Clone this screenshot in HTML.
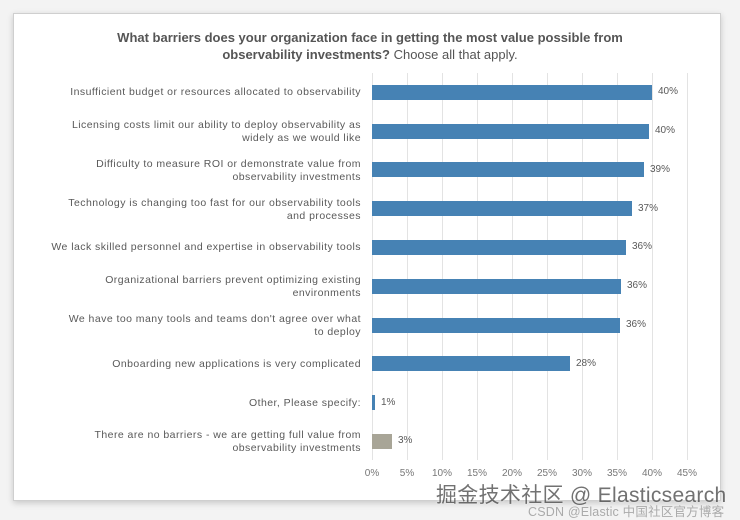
<!DOCTYPE html>
<html><head><meta charset="utf-8"><style>
body{margin:0;width:740px;height:519px;background:#f3f3f3;position:relative;overflow:hidden;font-family:"Liberation Sans","Noto Sans CJK SC",sans-serif;color:#595959}
.card{position:absolute;left:13px;top:13px;width:706px;height:486px;background:#fff;border:1px solid #cfcfcf;box-shadow:0 2px 6px rgba(0,0,0,.18)}
.t{position:absolute;left:0;width:740px;top:29px;text-align:center;font-size:13px;line-height:17px;color:#555}
.g{position:absolute;top:73px;height:387px;width:1px;background:#e3e3e3}
.bar{position:absolute;height:15px;background:#4682b4}
.lab{position:absolute;right:379px;width:360px;text-align:right;font-size:10.5px;line-height:13px;letter-spacing:0.45px;white-space:nowrap}
.v{position:absolute;font-size:10px}
.tk{position:absolute;top:468px;font-size:10px;width:40px;text-align:center;color:#777}
</style></head><body>
<div class="card"></div>
<div class="t"><b>What barriers does your organization face in getting the most value possible from<br>observability investments?</b> Choose all that apply.</div>
<div class="g" style="left:372px"></div><div class="g" style="left:407px"></div><div class="g" style="left:442px"></div><div class="g" style="left:477px"></div><div class="g" style="left:512px"></div><div class="g" style="left:547px"></div><div class="g" style="left:582px"></div><div class="g" style="left:617px"></div><div class="g" style="left:652px"></div><div class="g" style="left:687px"></div>

<div class="bar" style="left:372px;top:85px;width:280px"></div><div class="v" style="left:658px;top:86px">40%</div>
<div class="bar" style="left:372px;top:124px;width:277px"></div><div class="v" style="left:655px;top:125px">40%</div>
<div class="bar" style="left:372px;top:162px;width:272px"></div><div class="v" style="left:650px;top:164px">39%</div>
<div class="bar" style="left:372px;top:201px;width:260px"></div><div class="v" style="left:638px;top:203px">37%</div>
<div class="bar" style="left:372px;top:240px;width:254px"></div><div class="v" style="left:632px;top:241px">36%</div>
<div class="bar" style="left:372px;top:279px;width:249px"></div><div class="v" style="left:627px;top:280px">36%</div>
<div class="bar" style="left:372px;top:318px;width:248px"></div><div class="v" style="left:626px;top:319px">36%</div>
<div class="bar" style="left:372px;top:356px;width:198px"></div><div class="v" style="left:576px;top:358px">28%</div>
<div class="bar" style="left:372px;top:395px;width:3px"></div><div class="v" style="left:381px;top:397px">1%</div>
<div class="bar" style="left:372px;top:434px;width:20px;background:#a8a597"></div><div class="v" style="left:398px;top:435px">3%</div>

<div class="lab" style="top:86px">Insufficient budget or resources allocated to observability</div>
<div class="lab" style="top:119px">Licensing costs limit our ability to deploy observability as<br>widely as we would like</div>
<div class="lab" style="top:158px">Difficulty to measure ROI or demonstrate value from<br>observability investments</div>
<div class="lab" style="top:197px">Technology is changing too fast for our observability tools<br>and processes</div>
<div class="lab" style="top:241px">We lack skilled personnel and expertise in observability tools</div>
<div class="lab" style="top:274px">Organizational barriers prevent optimizing existing<br>environments</div>
<div class="lab" style="top:313px">We have too many tools and teams don't agree over what<br>to deploy</div>
<div class="lab" style="top:358px">Onboarding new applications is very complicated</div>
<div class="lab" style="top:397px">Other, Please specify:</div>
<div class="lab" style="top:429px">There are no barriers - we are getting full value from<br>observability investments</div>

<div class="tk" style="left:352px">0%</div><div class="tk" style="left:387px">5%</div><div class="tk" style="left:422px">10%</div><div class="tk" style="left:457px">15%</div><div class="tk" style="left:492px">20%</div><div class="tk" style="left:527px">25%</div><div class="tk" style="left:562px">30%</div><div class="tk" style="left:597px">35%</div><div class="tk" style="left:632px">40%</div><div class="tk" style="left:667px">45%</div>

<div style="position:absolute;left:436px;top:479px;font-size:21px;letter-spacing:0.3px;color:#444;opacity:.75;white-space:nowrap;text-shadow:0 0 2px #fff">掘金技术社区 @ Elasticsearch</div>
<div style="position:absolute;left:528px;top:501px;font-size:12.5px;letter-spacing:0.2px;color:#aaa;white-space:nowrap">CSDN @Elastic 中国社区官方博客</div>
</body></html>
